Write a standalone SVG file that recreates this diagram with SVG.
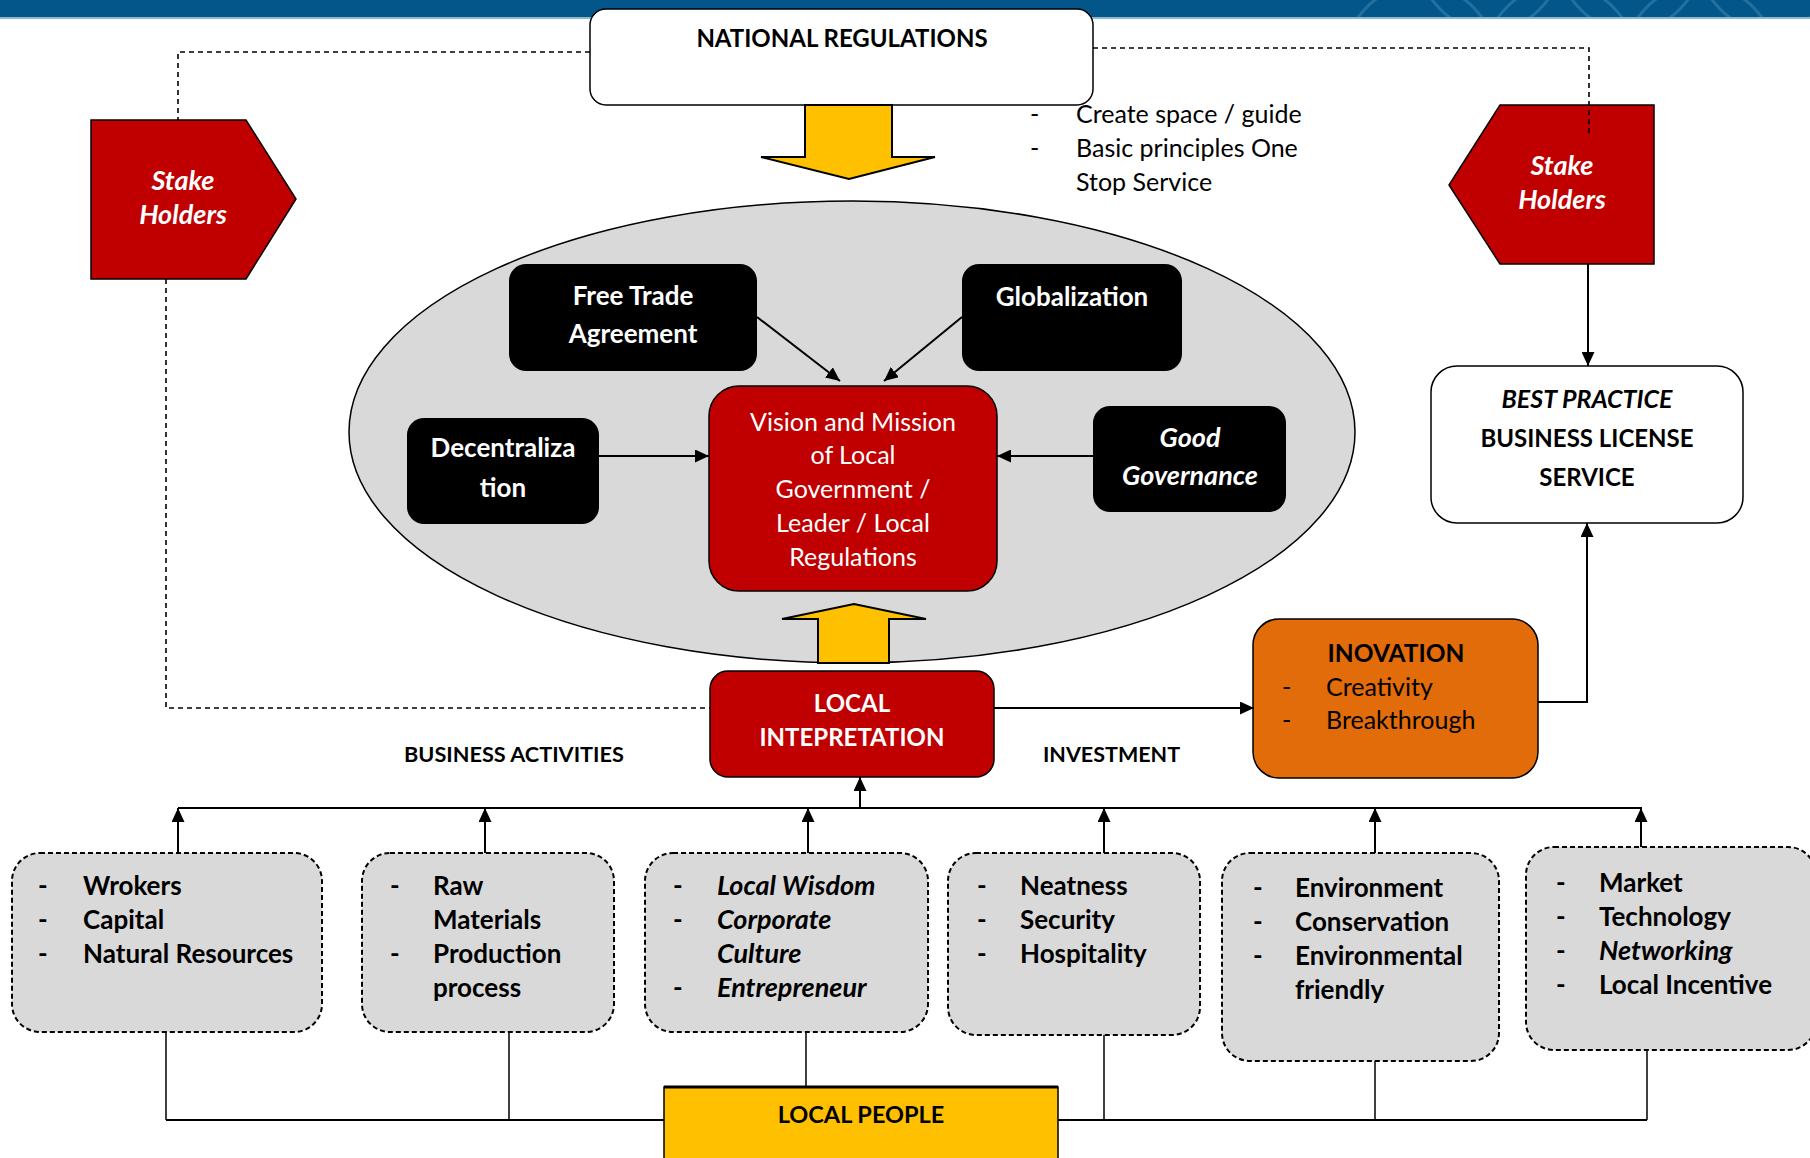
<svg xmlns="http://www.w3.org/2000/svg" width="1810" height="1158" viewBox="0 0 1810 1158">
  <style>
    text { font-family: Lato, "Liberation Sans", sans-serif; font-size: 25px; }
    .b { font-weight: 700; font-size: 26px; }
    .i { font-style: italic; font-size: 27px; }
    .cap { font-size: 24px; }
    .w { fill: #ffffff; }
    .k { fill: #000000; }
    .c { text-anchor: middle; }
    .ln { stroke: #000; stroke-width: 2; fill: none; }
    .thin { stroke: #000; stroke-width: 1.5; fill: none; }
    .dsh { stroke: #000; stroke-width: 1.6; fill: none; stroke-dasharray: 5 4; }
    .blk { fill: #000; }
    .red { fill: #C00000; stroke: #000; stroke-width: 1.5; }
    .pill { fill: #D9D9D9; stroke: #000; stroke-width: 2; stroke-dasharray: 5 3; }
    .yel { fill: #FFC000; stroke: #000; stroke-width: 2; }
  </style>
  <defs>
    <marker id="arr" markerUnits="userSpaceOnUse" markerWidth="14" markerHeight="13" refX="14" refY="6.5" orient="auto">
      <path d="M0,0 L14,6.5 L0,13 z" fill="#000"/>
    </marker>
    <clipPath id="bandClip"><rect x="0" y="0" width="1810" height="17"/></clipPath>
  </defs>

  <!-- header band -->
  <g id="header">
    <rect x="0" y="0" width="1810" height="17" fill="#02568A"/>
    <g clip-path="url(#bandClip)" fill="none" stroke="#3f86b0" stroke-width="3" opacity="0.55">
      <circle cx="1420" cy="60" r="75"/>
      <circle cx="1560" cy="60" r="75"/>
      <circle cx="1700" cy="60" r="75"/>
      <circle cx="1490" cy="-40" r="70"/>
      <circle cx="1630" cy="-40" r="70"/>
      <circle cx="1770" cy="-40" r="70"/>
    </g>
    <rect x="0" y="17" width="1810" height="2" fill="#8DB9CF"/>
  </g>

  <!-- national regulations -->
  <g id="national-regulations">
    <rect x="590" y="9" width="503" height="96" rx="16" fill="#fff" stroke="#000" stroke-width="1.5"/>
    <text class="b cap k c" x="842" y="47">NATIONAL REGULATIONS</text>
  </g>
  <g id="down-arrow">
    <path class="yel" d="M805,105 H892 V157 H935 L849,179 L761,157 H805 Z"/>
  </g>
  <g id="regulation-notes">
    <text class="k" x="1030" y="123">-</text>
    <text class="k" x="1076" y="123">Create space / guide</text>
    <text class="k" x="1030" y="157">-</text>
    <text class="k" x="1076" y="157">Basic principles One</text>
    <text class="k" x="1076" y="191">Stop Service</text>
  </g>

  <!-- stakeholders -->
  <g id="stakeholders-left">
    <path class="red" d="M91,120 H246 L296,199 L246,279 H91 Z"/>
    <text class="b i w c" x="183" y="190">Stake</text>
    <text class="b i w c" x="183" y="224">Holders</text>
  </g>
  <g id="stakeholders-right">
    <path class="red" d="M1654,105 H1500 L1449,185 L1500,264 H1654 Z"/>
    <text class="b i w c" x="1562" y="175">Stake</text>
    <text class="b i w c" x="1562" y="209">Holders</text>
  </g>

  <!-- best practice -->
  <g id="best-practice">
    <rect x="1431" y="366" width="312" height="157" rx="26" fill="#fff" stroke="#000" stroke-width="1.5"/>
    <text class="b k c" x="1587" y="408" style="font-style:italic;font-size:25px">BEST PRACTICE</text>
    <text class="b cap k c" x="1587" y="447">BUSINESS LICENSE</text>
    <text class="b cap k c" x="1587" y="486">SERVICE</text>
  </g>

  <!-- policy environment -->
  <g id="environment">
    <ellipse cx="852" cy="432" rx="503" ry="231" fill="#D9D9D9" stroke="#000" stroke-width="1.5"/>
  </g>
  <g id="free-trade">
    <rect class="blk" x="509" y="264" width="248" height="107" rx="17"/>
    <text class="b w c" x="633" y="305">Free Trade</text>
    <text class="b w c" x="633" y="343">Agreement</text>
  </g>
  <g id="globalization">
    <rect class="blk" x="962" y="264" width="220" height="107" rx="17"/>
    <text class="b w c" x="1072" y="306">Globalization</text>
  </g>
  <g id="decentralization">
    <rect class="blk" x="407" y="418" width="192" height="106" rx="17"/>
    <text class="b w c" x="503" y="457">Decentraliza</text>
    <text class="b w c" x="503" y="497">tion</text>
  </g>
  <g id="good-governance">
    <rect class="blk" x="1093" y="406" width="193" height="106" rx="17"/>
    <text class="b i w c" x="1190" y="447">Good</text>
    <text class="b i w c" x="1190" y="485">Governance</text>
  </g>
  <g id="vision">
    <rect class="red" x="709" y="386" width="288" height="205" rx="30"/>
    <text class="w c" x="853" y="431">Vision and Mission</text>
    <text class="w c" x="853" y="464">of Local</text>
    <text class="w c" x="853" y="498">Government /</text>
    <text class="w c" x="853" y="532">Leader / Local</text>
    <text class="w c" x="853" y="566">Regulations</text>
  </g>
  <g id="up-arrow">
    <path class="yel" d="M818,663 V619 H782 L854,604 L926,619 H889 V663 Z"/>
  </g>

  <!-- interpretation and innovation -->
  <g id="local-interpretation">
    <rect class="red" x="710" y="671" width="284" height="106" rx="18"/>
    <text class="b cap w c" x="852" y="712">LOCAL</text>
    <text class="b cap w c" x="852" y="746">INTEPRETATION</text>
  </g>
  <g id="innovation">
    <rect x="1253" y="619" width="285" height="159" rx="26" fill="#E26B0A" stroke="#000" stroke-width="1.5"/>
    <text class="b k c" x="1396" y="662" style="font-size:24.5px">INOVATION</text>
    <text class="k" x="1282" y="696">-</text>
    <text class="k" x="1326" y="696">Creativity</text>
    <text class="k" x="1282" y="729">-</text>
    <text class="k" x="1326" y="729">Breakthrough</text>
  </g>
  <g id="labels">
    <text class="b k" x="404" y="762" style="font-size:21.7px">BUSINESS ACTIVITIES</text>
    <text class="b k" x="1043" y="762" style="font-size:21.5px">INVESTMENT</text>
  </g>

  <!-- resource groups -->
  <g id="resources">
    <rect class="pill" x="12" y="853" width="310" height="179" rx="28"/>
    <text class="b k" x="38" y="895">-</text><text class="b k" x="83" y="895">Wrokers</text>
    <text class="b k" x="38" y="929">-</text><text class="b k" x="83" y="929">Capital</text>
    <text class="b k" x="38" y="963">-</text><text class="b k" x="83" y="963">Natural Resources</text>
  </g>
  <g id="materials">
    <rect class="pill" x="362" y="853" width="252" height="179" rx="28"/>
    <text class="b k" x="390" y="895">-</text><text class="b k" x="433" y="895">Raw</text>
    <text class="b k" x="433" y="929">Materials</text>
    <text class="b k" x="390" y="963">-</text><text class="b k" x="433" y="963">Production</text>
    <text class="b k" x="433" y="997">process</text>
  </g>
  <g id="culture">
    <rect class="pill" x="645" y="853" width="283" height="179" rx="28"/>
    <text class="b k" x="673" y="895">-</text><text class="b i k" x="717" y="895">Local Wisdom</text>
    <text class="b k" x="673" y="929">-</text><text class="b i k" x="717" y="929">Corporate</text>
    <text class="b i k" x="717" y="963">Culture</text>
    <text class="b k" x="673" y="997">-</text><text class="b i k" x="717" y="997">Entrepreneur</text>
  </g>
  <g id="hospitality">
    <rect class="pill" x="948" y="853" width="252" height="182" rx="28"/>
    <text class="b k" x="977" y="895">-</text><text class="b k" x="1020" y="895">Neatness</text>
    <text class="b k" x="977" y="929">-</text><text class="b k" x="1020" y="929">Security</text>
    <text class="b k" x="977" y="963">-</text><text class="b k" x="1020" y="963">Hospitality</text>
  </g>
  <g id="environment-care">
    <rect class="pill" x="1222" y="853" width="277" height="208" rx="28"/>
    <text class="b k" x="1253" y="897">-</text><text class="b k" x="1295" y="897">Environment</text>
    <text class="b k" x="1253" y="931">-</text><text class="b k" x="1295" y="931">Conservation</text>
    <text class="b k" x="1253" y="965">-</text><text class="b k" x="1295" y="965">Environmental</text>
    <text class="b k" x="1295" y="999">friendly</text>
  </g>
  <g id="market">
    <rect class="pill" x="1526" y="847" width="290" height="203" rx="28"/>
    <text class="b k" x="1556" y="892">-</text><text class="b k" x="1599" y="892">Market</text>
    <text class="b k" x="1556" y="926">-</text><text class="b k" x="1599" y="926">Technology</text>
    <text class="b k" x="1556" y="960">-</text><text class="b i k" x="1599" y="960">Networking</text>
    <text class="b k" x="1556" y="994">-</text><text class="b k" x="1599" y="994">Local Incentive</text>
  </g>

  <!-- local people -->
  <g id="local-people">
    <rect x="664" y="1087" width="394" height="80" fill="#FFC000" stroke="#000" stroke-width="1.5"/>
    <line x1="664" y1="1087" x2="1058" y2="1087" stroke="#000" stroke-width="3"/>
    <text class="b k c" x="861" y="1123" style="font-size:23.5px">LOCAL PEOPLE</text>
  </g>

  <!-- connectors, drawn over the shapes -->
  <g id="connectors">
    <!-- stakeholder dashed links -->
    <path class="dsh" d="M590,52 H178 V120"/>
    <path class="dsh" d="M1093,48 H1589 V134"/>
    <path class="dsh" d="M166,279 V708 H710"/>
    <!-- stakeholders to best practice -->
    <path class="ln" d="M1588,264 V366" marker-end="url(#arr)"/>
    <!-- factors into vision -->
    <path class="ln" d="M757,317 L840,381" marker-end="url(#arr)"/>
    <path class="ln" d="M962,317 L884,381" marker-end="url(#arr)"/>
    <path class="ln" d="M599,456 H709" marker-end="url(#arr)"/>
    <path class="ln" d="M1093,456 H997" marker-end="url(#arr)"/>
    <!-- interpretation to innovation to best practice -->
    <path class="ln" d="M994,708 H1254" marker-end="url(#arr)" stroke-width="2.5"/>
    <path class="ln" d="M1538,702 H1587 V523" marker-end="url(#arr)"/>
    <!-- activity bus -->
    <path class="ln" d="M178,808 H1642" stroke-width="2.5"/>
    <path class="ln" d="M860,808 V777" marker-end="url(#arr)"/>
    <path class="ln" d="M178,853 V808" marker-end="url(#arr)"/>
    <path class="ln" d="M485,853 V808" marker-end="url(#arr)"/>
    <path class="ln" d="M808,853 V808" marker-end="url(#arr)"/>
    <path class="ln" d="M1104,853 V808" marker-end="url(#arr)"/>
    <path class="ln" d="M1375,853 V808" marker-end="url(#arr)"/>
    <path class="ln" d="M1641,847 V808" marker-end="url(#arr)"/>
    <!-- local people feed -->
    <path class="ln" d="M166,1120 H664 M1058,1120 H1647" stroke-width="3"/>
    <path class="thin" d="M166,1032 V1120"/>
    <path class="thin" d="M509,1032 V1120"/>
    <path class="thin" d="M806,1032 V1087"/>
    <path class="thin" d="M1104,1035 V1120"/>
    <path class="thin" d="M1375,1061 V1120"/>
    <path class="thin" d="M1647,1050 V1120"/>
  </g>
</svg>
